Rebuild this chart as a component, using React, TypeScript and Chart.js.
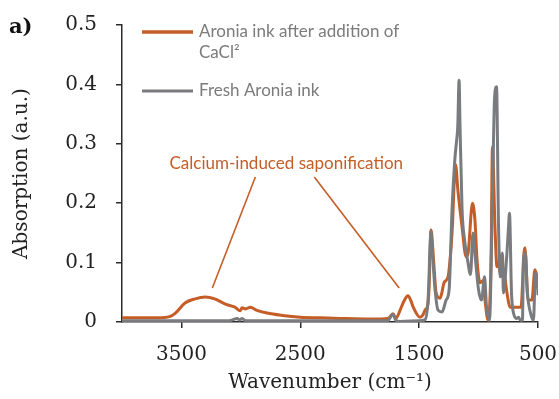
import { useEffect, useRef } from 'react';
import { Chart, registerables } from 'chart.js';

Chart.register(...registerables);

// ---------- data ----------
const seriesLabels = ['Aronia ink after addition of CaCl²', 'Fresh Aronia ink'];

const cacl2Wavenumber = [
  4000, 3700, 3600, 3550, 3470, 3385, 3300, 3220,
  3130, 3050, 3005, 2990, 2960, 2920, 2870, 2780,
  2650, 2500, 2330, 2165, 1900, 1762, 1720, 1695,
  1660, 1628, 1594, 1568, 1552, 1493, 1468, 1450,
  1426, 1416, 1400, 1384, 1367, 1358, 1325, 1308,
  1291, 1258, 1242, 1223, 1194, 1173, 1139, 1105,
  1089, 1051, 1030, 1013, 988, 962, 946, 920,
  895, 883, 862, 845, 832, 820, 794, 761,
  736, 643, 618, 610, 584, 551, 526, 500,
];
const cacl2Absorption = [
  0.007, 0.007, 0.009, 0.015, 0.032, 0.039, 0.042, 0.039,
  0.030, 0.025, 0.019, 0.024, 0.022, 0.025, 0.020, 0.015,
  0.011, 0.008, 0.007, 0.006, 0.005, 0.006, 0.014, 0.006,
  0.020, 0.035, 0.044, 0.035, 0.026, 0.008, 0.012, 0.020,
  0.030, 0.060, 0.155, 0.120, 0.070, 0.050, 0.040, 0.050,
  0.066, 0.075, 0.100, 0.150, 0.265, 0.220, 0.160, 0.110,
  0.115, 0.200, 0.170, 0.105, 0.066, 0.070, 0.037, 0.003,
  0.105, 0.295, 0.160, 0.093, 0.100, 0.082, 0.090, 0.049,
  0.025, 0.025, 0.116, 0.125, 0.037, 0.037, 0.088, 0.070,
];

const freshWavenumber = [
  4000, 3500, 3100, 3030, 3010, 2990, 2960, 2000,
  1765, 1720, 1697, 1660, 1500, 1450, 1425, 1400,
  1386, 1366, 1341, 1307, 1273, 1248, 1223, 1198,
  1185, 1175, 1164, 1156, 1139, 1118, 1093, 1068,
  1047, 1026, 1000, 975, 950, 933, 908, 883,
  866, 849, 832, 816, 799, 791, 765, 748,
  740, 723, 706, 681, 664, 648, 631, 622,
  606, 589, 563, 538, 522, 505, 500,
];
const freshAbsorption = [
  0.002, 0.002, 0.002, 0.006, 0.003, 0.006, 0.002, 0.002,
  0.002, 0.013, 0.003, 0.001, 0.002, 0.004, 0.037, 0.152,
  0.110, 0.054, 0.020, 0.017, 0.037, 0.054, 0.190, 0.278,
  0.305, 0.330, 0.407, 0.330, 0.190, 0.138, 0.105, 0.080,
  0.150, 0.105, 0.054, 0.037, 0.076, 0.025, 0.003, 0.217,
  0.374, 0.396, 0.160, 0.076, 0.116, 0.049, 0.105, 0.160,
  0.183, 0.049, 0.015, 0.006, 0.008, 0.003, 0.003, 0.105,
  0.116, 0.049, 0.015, 0.003, 0.082, 0.070, 0.045,
];

const xTickValues = [3500, 2500, 1500, 500];
const xTitle = 'Wavenumber (cm⁻¹)';
const yTitle = 'Absorption (a.u.)';
const panelLabel = 'a)';
const annotationText = 'Calcium-induced saponification';
// annotation anchors in data space [wavenumber, absorption]
const annotationTextAnchor = [2618, 0.2576];
const annotationLeaders = [
  [2878, 0.244, 3240, 0.0572],
  [2382, 0.244, 1668, 0.0572],
];

// ---------- styles ----------
const ORANGE = '#C55D27';
const GRAY = '#7A7B7E';
const AXIS = '#2b2b2b';
const SERIF = "'DejaVu Serif', serif";
const SANS = "Lato, 'Open Sans', sans-serif";

const overlayPlugin = {
  id: 'overlay',
  afterDraw(chart: any) {
    const { ctx, chartArea, scales } = chart;
    const xs = scales.x;
    const ys = scales.y;
    ctx.save();

    // annotation
    ctx.strokeStyle = ORANGE;
    ctx.lineWidth = 1.6;
    for (const [x1, y1, x2, y2] of annotationLeaders) {
      ctx.beginPath();
      ctx.moveTo(xs.getPixelForValue(x1), ys.getPixelForValue(y1));
      ctx.lineTo(xs.getPixelForValue(x2), ys.getPixelForValue(y2));
      ctx.stroke();
    }
    ctx.fillStyle = ORANGE;
    ctx.font = `17px ${SANS}`;
    ctx.textAlign = 'center';
    ctx.textBaseline = 'alphabetic';
    ctx.fillText(
      annotationText,
      xs.getPixelForValue(annotationTextAnchor[0]),
      ys.getPixelForValue(annotationTextAnchor[1])
    );

    // legend
    const lx0 = chartArea.left + 20;
    const lx1 = chartArea.left + 71;
    const tx = chartArea.left + 77;
    const maxW = 215;
    const lineGap = 21;
    const rowY = [chartArea.top + 7, chartArea.top + 66];
    ctx.font = `17px ${SANS}`;
    ctx.textAlign = 'left';
    ctx.textBaseline = 'middle';
    chart.data.datasets.forEach((ds: any, i: number) => {
      const y = rowY[i];
      ctx.strokeStyle = ds.borderColor;
      ctx.lineWidth = i === 0 ? 3.5 : 3;
      ctx.beginPath();
      ctx.moveTo(lx0, y);
      ctx.lineTo(lx1, y);
      ctx.stroke();
      const words = String(ds.label).split(' ');
      const lines: string[] = [];
      let cur = '';
      for (const w of words) {
        const test = cur ? cur + ' ' + w : w;
        if (ctx.measureText(test).width > maxW && cur) {
          lines.push(cur);
          cur = w;
        } else cur = test;
      }
      if (cur) lines.push(cur);
      ctx.fillStyle = '#7b7b7b';
      lines.forEach((ln, k) => ctx.fillText(ln, tx, y + k * lineGap));
    });

    // panel label
    ctx.fillStyle = '#111';
    ctx.font = `bold 21px ${SERIF}`;
    ctx.textAlign = 'left';
    ctx.textBaseline = 'alphabetic';
    ctx.fillText(panelLabel, 9, 33);

    ctx.restore();
  },
};

export default function App() {
  const ref = useRef<HTMLCanvasElement>(null);

  useEffect(() => {
    if (!ref.current) return;
    const chart = new Chart(ref.current, {
      type: 'line',
      data: {
        datasets: [
          {
            label: seriesLabels[0],
            data: cacl2Wavenumber.map((x, i) => ({ x, y: cacl2Absorption[i] })),
            borderColor: ORANGE,
            borderWidth: 3,
            pointRadius: 0,
            cubicInterpolationMode: 'monotone',
            order: 1,
          },
          {
            label: seriesLabels[1],
            data: freshWavenumber.map((x, i) => ({ x, y: freshAbsorption[i] })),
            borderColor: GRAY,
            borderWidth: 3,
            pointRadius: 0,
            cubicInterpolationMode: 'monotone',
            order: 0,
          },
        ],
      },
      options: {
        animation: false,
        responsive: false,
        devicePixelRatio: 1,
        layout: { padding: { top: 25, right: 21, left: 0, bottom: 0 } },
        plugins: { legend: { display: false }, tooltip: { enabled: false } },
        scales: {
          x: {
            type: 'linear',
            reverse: true,
            min: 500,
            max: 4000,
            afterBuildTicks: (scale: any) => {
              scale.ticks = xTickValues.map((v) => ({ value: v }));
            },
            afterFit: (scale: any) => {
              scale.height = 77;
              scale.paddingLeft = 0;
              scale.paddingRight = 0;
            },
            ticks: {
              font: { family: SERIF, size: 20 },
              color: '#222',
              padding: 15,
              maxRotation: 0,
              autoSkip: false,
              callback: (v: any) => String(v),
            },
            grid: {
              drawOnChartArea: false,
              drawTicks: true,
              tickLength: 6,
              color: AXIS,
              lineWidth: 1.5,
            },
            border: { display: true, color: AXIS, width: 1.5 },
            title: {
              display: true,
              text: xTitle,
              font: { family: SERIF, size: 20 },
              color: '#222',
              padding: { top: 0, bottom: 4 },
            },
          },
          y: {
            min: 0,
            max: 0.5,
            afterFit: (scale: any) => {
              scale.width = 122;
              scale.paddingTop = 0;
              scale.paddingBottom = 0;
            },
            ticks: {
              stepSize: 0.1,
              font: { family: SERIF, size: 20 },
              color: '#222',
              padding: 19,
              callback: (v: any) => String(Math.round(v * 10) / 10),
            },
            grid: {
              drawOnChartArea: false,
              drawTicks: true,
              tickLength: 6,
              color: AXIS,
              lineWidth: 1.5,
            },
            border: { display: true, color: AXIS, width: 1.5 },
            title: {
              display: true,
              text: yTitle,
              font: { family: SERIF, size: 20 },
              color: '#222',
              padding: { top: 10, bottom: 0 },
            },
          },
        },
      },
      plugins: [overlayPlugin],
    } as any);
    return () => chart.destroy();
  }, []);

  return (
    <div style={{ position: 'absolute', left: 0, top: 0, width: 559, height: 399, background: '#fff' }}>
      <canvas ref={ref} width={559} height={399} style={{ width: 559, height: 399, display: 'block' }} />
    </div>
  );
}
